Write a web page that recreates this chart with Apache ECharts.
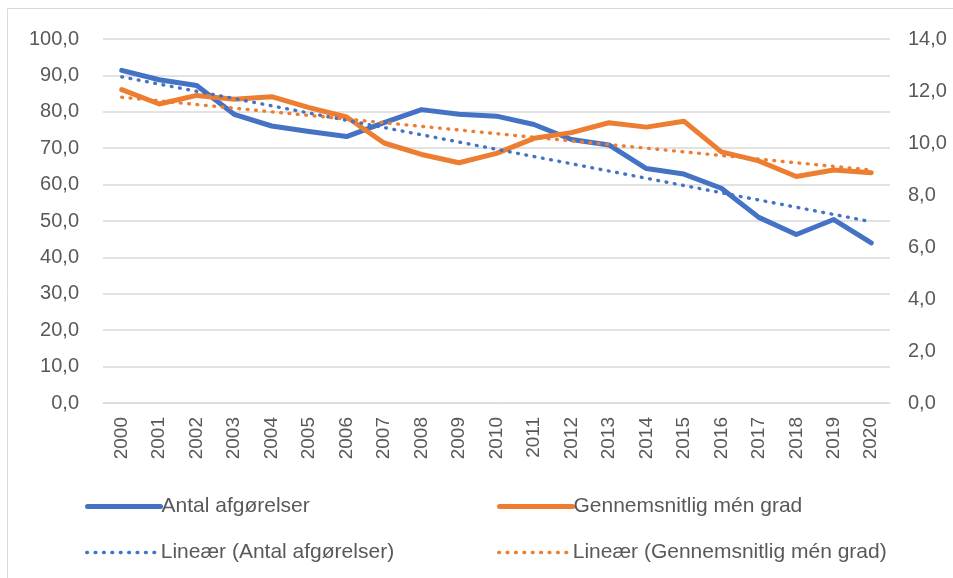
<!DOCTYPE html>
<html>
<head>
<meta charset="utf-8">
<script src="https://cdn.jsdelivr.net/npm/echarts@6/dist/echarts.min.js"></script>
<style>
  html, body { margin: 0; padding: 0; background: #fff; }
  #main { width: 953px; height: 578px; }
</style>
</head>
<body>
<div id="main"></div>
<script>
const years = ['2000', '2001', '2002', '2003', '2004', '2005', '2006', '2007', '2008', '2009', '2010',
  '2011', '2012', '2013', '2014', '2015', '2016', '2017', '2018', '2019', '2020'];
// Antal afgørelser (left axis)
const antal = [91.4, 88.8, 87.2, 79.3, 76.1, 74.6, 73.2, 77.0, 80.6, 79.3, 78.8,
  76.5, 72.4, 70.9, 64.4, 62.9, 59.0, 51.0, 46.3, 50.4, 44.0];
// Gennemsnitlig mén grad (right axis)
const men = [12.05, 11.5, 11.83, 11.68, 11.78, 11.36, 11.0, 10.0, 9.56, 9.24, 9.6,
  10.18, 10.4, 10.78, 10.61, 10.84, 9.66, 9.31, 8.71, 8.96, 8.86];
// trendline end points (first year, last year)
const antalTrendEnds = [89.6, 49.8];
const menTrendEnds = [11.76, 8.96];

const ends = e => years.map((y, i) => i === 0 ? e[0] : (i === years.length - 1 ? e[1] : null));

const fmt = v => v.toFixed(1).replace('.', ',');
const font = 'Liberation Sans, Arial, sans-serif';
const txt = '#595959';
const blue = '#4472C4';
const orange = '#ED7D31';
const dots = [0.8, 7.6];

const legendItem = (name, left, top, dotted) => ({
  left: left,
  top: top,
  itemWidth: 73,
  itemHeight: 14,
  itemGap: 0,
  data: [name],
  itemStyle: {opacity: 0},
  lineStyle: dotted ? {width: 3.4, type: dots, cap: 'round'} : {width: 5, cap: 'round'},
  textStyle: {color: txt, fontSize: 21, fontFamily: font, padding: [0, 0, 0, -4]}
});

const chart = echarts.init(document.getElementById('main'));
chart.setOption({
  animation: false,
  textStyle: {fontFamily: font},
  graphic: [{
    type: 'rect',
    shape: {x: 7.5, y: 8.5, width: 1000, height: 700},
    style: {fill: 'none', stroke: '#d9d9d9', lineWidth: 1},
    silent: true
  }],
  grid: {left: 103, right: 63, top: 39, bottom: 175},
  legend: [
    legendItem('Antal afgørelser', 80, 491, false),
    legendItem('Gennemsnitlig mén grad', 492, 491, false),
    legendItem('Lineær (Antal afgørelser)', 80, 537, true),
    legendItem('Lineær (Gennemsnitlig mén grad)', 492, 537, true)
  ],
  xAxis: {
    type: 'category',
    data: years,
    axisLine: {lineStyle: {color: '#d9d9d9'}},
    axisTick: {show: false},
    axisLabel: {rotate: 90, color: txt, fontSize: 19, margin: 14}
  },
  yAxis: [{
    type: 'value',
    min: 0,
    max: 100,
    interval: 10,
    axisLine: {show: false},
    axisTick: {show: false},
    splitLine: {lineStyle: {color: '#d9d9d9', width: 1.5}},
    axisLabel: {formatter: fmt, color: txt, fontSize: 20, margin: 24}
  }, {
    type: 'value',
    min: 0,
    max: 14,
    interval: 2,
    axisLine: {show: false},
    axisTick: {show: false},
    splitLine: {show: false},
    axisLabel: {formatter: fmt, color: txt, fontSize: 20, margin: 18}
  }],
  series: [{
    name: 'Antal afgørelser',
    type: 'line',
    data: antal,
    symbol: 'none',
    color: blue,
    lineStyle: {width: 5, color: blue, cap: 'round', join: 'round'}
  }, {
    name: 'Gennemsnitlig mén grad',
    type: 'line',
    yAxisIndex: 1,
    data: men,
    symbol: 'none',
    color: orange,
    lineStyle: {width: 5, color: orange, cap: 'round', join: 'round'}
  }, {
    name: 'Lineær (Antal afgørelser)',
    type: 'line',
    data: ends(antalTrendEnds),
    connectNulls: true,
    symbol: 'none',
    color: blue,
    lineStyle: {width: 3.4, color: blue, type: dots, cap: 'round'}
  }, {
    name: 'Lineær (Gennemsnitlig mén grad)',
    type: 'line',
    yAxisIndex: 1,
    data: ends(menTrendEnds),
    connectNulls: true,
    symbol: 'none',
    color: orange,
    lineStyle: {width: 3.4, color: orange, type: dots, cap: 'round'}
  }]
});
</script>
</body>
</html>
